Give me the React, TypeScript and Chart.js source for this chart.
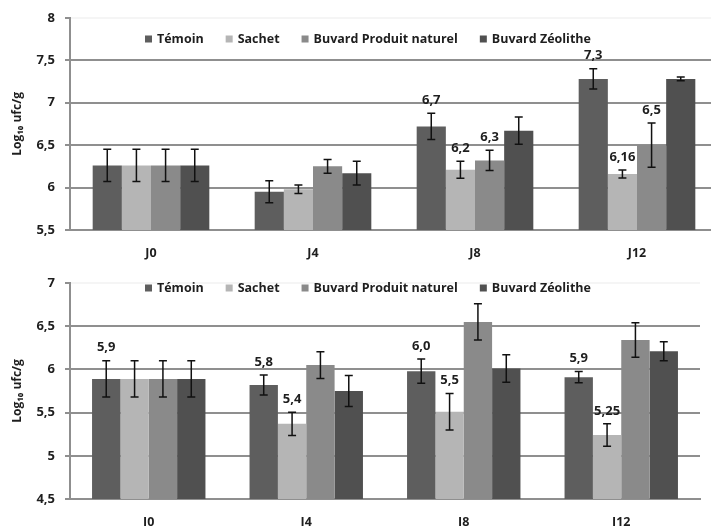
import React, { useEffect, useRef } from 'react';
import { Chart, registerables } from 'chart.js';

Chart.register(...registerables);

const categories = ['J0', 'J4', 'J8', 'J12'];
const seriesNames = ['Témoin', 'Sachet', 'Buvard Produit naturel', 'Buvard Zéolithe'];
const seriesColors = ['#5e5e5e', '#b5b5b5', '#8a8a8a', '#505050'];
const yTitle = 'Log₁₀ ufc/g';

// ---- top chart ----
const topTemoin = [6.26, 5.95, 6.72, 7.28];
const topSachet = [6.26, 5.98, 6.21, 6.16];
const topBuvardPN = [6.26, 6.25, 6.32, 6.5];
const topZeolithe = [6.26, 6.17, 6.67, 7.28];
const topTemoinErr = [0.19, 0.13, 0.155, 0.12];
const topSachetErr = [0.19, 0.05, 0.1, 0.048];
const topBuvardPNErr = [0.19, 0.08, 0.12, 0.26];
const topZeolitheErr = [0.19, 0.14, 0.16, 0.022];
const topTemoinLabels = [null, null, '6,7', '7,3'];
const topSachetLabels = [null, null, '6,2', '6,16'];
const topBuvardPNLabels = [null, null, '6,3', '6,5'];
const topZeolitheLabels = [null, null, null, null];
const topYMin = 5.5;
const topYMax = 8;

// ---- bottom chart ----
const botTemoin = [5.89, 5.82, 5.98, 5.91];
const botSachet = [5.89, 5.37, 5.51, 5.24];
const botBuvardPN = [5.89, 6.05, 6.55, 6.34];
const botZeolithe = [5.89, 5.75, 6.01, 6.21];
const botTemoinErr = [0.21, 0.115, 0.14, 0.065];
const botSachetErr = [0.21, 0.135, 0.21, 0.13];
const botBuvardPNErr = [0.21, 0.155, 0.21, 0.2];
const botZeolitheErr = [0.21, 0.18, 0.16, 0.11];
const botTemoinLabels = ['5,9', '5,8', '6,0', '5,9'];
const botSachetLabels = [null, '5,4', '5,5', '5,25'];
const botBuvardPNLabels = [null, null, null, null];
const botZeolitheLabels = [null, null, null, null];
const botYMin = 4.5;
const botYMax = 7;

const yStep = 0.5;
const FONT = '"Open Sans", "DejaVu Sans", sans-serif';
const GRID = '#8f8f8f';
const TEXT = '#1e1e1e';

type PanelSpec = {
  values: number[][];
  errors: number[][];
  labels: (string | null)[][];
  yMin: number;
  yMax: number;
  width: number;
  height: number;
  plotTop: number;
  plotBottom: number;
  plotRight: number;
  legendLeft: number;
  legendY: number;
};

function buildConfig(spec: PanelSpec): any {
  const datasets = seriesNames.map((name, i) => ({
    label: name,
    data: spec.values[i],
    backgroundColor: seriesColors[i],
    borderWidth: 0,
    errors: spec.errors[i],
    valueLabels: spec.labels[i],
  }));

  const errorPlugin = {
    id: 'errorBarsAndLabels',
    afterDatasetsDraw(chart: any) {
      const ctx = chart.ctx;
      const y = chart.scales.y;
      ctx.save();
      chart.data.datasets.forEach((ds: any, i: number) => {
        const meta = chart.getDatasetMeta(i);
        meta.data.forEach((bar: any, j: number) => {
          const v = ds.data[j];
          const e = ds.errors[j];
          const yTop = y.getPixelForValue(v + e);
          const yBot = y.getPixelForValue(v - e);
          ctx.strokeStyle = '#111';
          ctx.lineWidth = 1.5;
          ctx.beginPath();
          ctx.moveTo(bar.x, yTop);
          ctx.lineTo(bar.x, yBot);
          ctx.moveTo(bar.x - 4, yTop);
          ctx.lineTo(bar.x + 4, yTop);
          ctx.moveTo(bar.x - 4, yBot);
          ctx.lineTo(bar.x + 4, yBot);
          ctx.stroke();
          const lab = ds.valueLabels[j];
          if (lab) {
            ctx.fillStyle = TEXT;
            ctx.font = `bold 13px ${FONT}`;
            ctx.textAlign = 'center';
            ctx.textBaseline = 'middle';
            ctx.fillText(lab, bar.x, yTop - 13);
          }
        });
      });
      ctx.restore();
    },
  };

  const legendPlugin = {
    id: 'insideLegend',
    afterDraw(chart: any) {
      const ctx = chart.ctx;
      ctx.save();
      ctx.font = `bold 12.5px ${FONT}`;
      ctx.textBaseline = 'middle';
      ctx.textAlign = 'left';
      let x = spec.legendLeft;
      const yy = spec.legendY;
      chart.data.datasets.forEach((ds: any) => {
        ctx.fillStyle = ds.backgroundColor;
        ctx.fillRect(x, yy - 3.5, 7, 7);
        x += 12;
        ctx.fillStyle = TEXT;
        ctx.fillText(ds.label, x, yy);
        x += ctx.measureText(ds.label).width + 22;
      });
      ctx.restore();
    },
  };

  return {
    type: 'bar',
    data: { labels: categories, datasets },
    plugins: [errorPlugin, legendPlugin],
    options: {
      animation: false,
      responsive: false,
      maintainAspectRatio: false,
      devicePixelRatio: 1,
      layout: {
        padding: {
          left: 0,
          top: spec.plotTop,
          right: spec.width - spec.plotRight,
          bottom: 0,
        },
      },
      datasets: {
        bar: { categoryPercentage: 0.72, barPercentage: 1.0 },
      },
      plugins: {
        legend: { display: false },
        tooltip: { enabled: false },
        title: { display: false },
      },
      scales: {
        x: {
          grid: { display: false, drawTicks: false },
          border: { display: true, color: GRID, width: 2 },
          ticks: {
            color: TEXT,
            font: { family: FONT, size: 12.5, weight: 'bold' },
            padding: 16,
          },
          afterFit(scale: any) {
            scale.height = spec.height - spec.plotBottom;
          },
        },
        y: {
          min: spec.yMin,
          max: spec.yMax,
          grid: {
            color: (c: any) => (c.tick && c.tick.value === spec.yMax ? 'rgba(0,0,0,0.04)' : GRID),
            tickColor: GRID,
            lineWidth: 2,
            drawTicks: true,
            tickLength: 5,
          },
          border: { display: true, color: GRID, width: 2 },
          ticks: {
            stepSize: yStep,
            color: TEXT,
            font: { family: FONT, size: 13, weight: 'bold' },
            padding: 10,
            callback: (v: any) => String(Math.round(v * 10) / 10).replace('.', ','),
          },
          title: {
            display: true,
            text: yTitle,
            color: TEXT,
            font: { family: FONT, size: 12, weight: 'bold' },
            padding: { top: 10, bottom: 0 },
          },
          afterFit(scale: any) {
            scale.width = 70;
          },
        },
      },
    },
  };
}

function BarPanel({ spec, top }: { spec: PanelSpec; top: number }) {
  const ref = useRef<HTMLCanvasElement | null>(null);
  useEffect(() => {
    if (!ref.current) return;
    const chart = new Chart(ref.current, buildConfig(spec));
    return () => chart.destroy();
  }, [spec]);
  return (
    <canvas
      ref={ref}
      width={spec.width}
      height={spec.height}
      style={{ position: 'absolute', left: 0, top, width: spec.width, height: spec.height }}
    />
  );
}

const topSpec: PanelSpec = {
  values: [topTemoin, topSachet, topBuvardPN, topZeolithe],
  errors: [topTemoinErr, topSachetErr, topBuvardPNErr, topZeolitheErr],
  labels: [topTemoinLabels, topSachetLabels, topBuvardPNLabels, topZeolitheLabels],
  yMin: topYMin,
  yMax: topYMax,
  width: 725,
  height: 262,
  plotTop: 16,
  plotBottom: 230,
  plotRight: 718,
  legendLeft: 145,
  legendY: 39,
};

const botSpec: PanelSpec = {
  values: [botTemoin, botSachet, botBuvardPN, botZeolithe],
  errors: [botTemoinErr, botSachetErr, botBuvardPNErr, botZeolitheErr],
  labels: [botTemoinLabels, botSachetLabels, botBuvardPNLabels, botZeolitheLabels],
  yMin: botYMin,
  yMax: botYMax,
  width: 711,
  height: 264,
  plotTop: 21,
  plotBottom: 237,
  plotRight: 700,
  legendLeft: 145,
  legendY: 26,
};

export default function App() {
  return (
    <div
      style={{
        position: 'absolute',
        left: 0,
        top: 0,
        width: 711,
        height: 526,
        overflow: 'hidden',
        background: '#ffffff',
      }}
    >
      <BarPanel spec={topSpec} top={0} />
      <BarPanel spec={botSpec} top={262} />
    </div>
  );
}
